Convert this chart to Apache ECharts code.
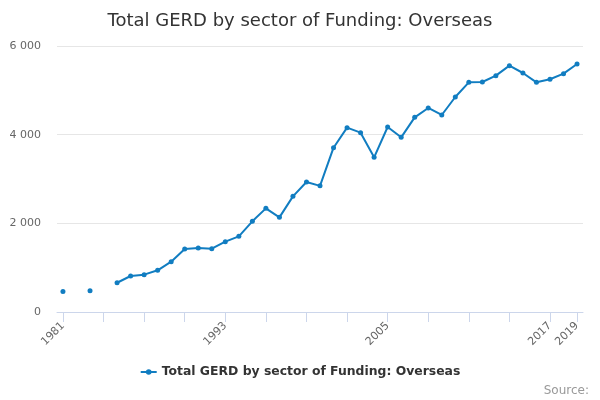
<!DOCTYPE html>
<html>
<head>
<meta charset="utf-8">
<script src="https://cdn.jsdelivr.net/npm/echarts@6/dist/echarts.min.js"></script>
<style>html,body{margin:0;padding:0;background:#fff}#c{width:600px;height:400px}</style>
</head>
<body>
<div id="c"></div>
<script>
var years = [1981,1982,1983,1984,1985,1986,1987,1988,1989,1990,1991,1992,1993,1994,1995,1996,1997,1998,1999,2000,2001,2002,2003,2004,2005,2006,2007,2008,2009,2010,2011,2012,2013,2014,2015,2016,2017,2018,2019];
var values = [460,null,480,null,660,812,842,940,1135,1421,1444,1429,1586,1707,2045,2338,2135,2609,2932,2845,3706,4158,4045,3489,4173,3940,4391,4602,4444,4850,5181,5188,5331,5557,5391,5181,5249,5376,5594];
var tickYears = [1981,1984,1987,1990,1993,1996,1999,2002,2005,2008,2011,2014,2017,2019];
var labelYears = [1981,1993,2005,2017,2019];
var seriesName = 'Total GERD by sector of Funding: Overseas';
var titleText = 'Total GERD by sector of Funding: Overseas';
var sourceText = 'Source:';

var FONT = 'DejaVu Sans';
var chart = echarts.init(document.getElementById('c'), null, {renderer: 'canvas'});
var data = years.map(function (y, i) { return [y, values[i] == null ? '-' : values[i]]; });
function fmt(v) { return String(v).replace(/\B(?=(\d{3})+(?!\d))/g, ' '); }

chart.setOption({
  animation: false,
  title: {
    text: titleText, left: 'center', top: 7,
    textStyle: {fontFamily: FONT, fontSize: 18, fontWeight: 'normal', color: '#333333'}
  },
  grid: {left: 57, right: 17, top: 46, bottom: 88, containLabel: false},
  xAxis: {
    type: 'value', min: 1980.56, max: 2019.44,
    axisLine: {show: true, onZero: false, lineStyle: {color: '#ccd6eb', width: 1}},
    axisTick: {show: true, length: 10, customValues: tickYears, lineStyle: {color: '#ccd6eb'}},
    axisLabel: {
      customValues: labelYears, rotate: 45, margin: 12,
      fontFamily: FONT, fontSize: 11, color: '#666666',
      formatter: function (v) { return String(v); }
    },
    splitLine: {show: false}
  },
  yAxis: {
    type: 'value', min: 0, max: 6000, interval: 2000,
    axisLine: {show: false}, axisTick: {show: false},
    axisLabel: {fontFamily: FONT, fontSize: 11, color: '#666666', margin: 16, formatter: fmt},
    splitLine: {lineStyle: {color: '#e6e6e6', width: 1}}
  },
  legend: {
    bottom: 17, left: 'center', itemWidth: 16, itemHeight: 7, itemGap: 20,
    textStyle: {fontFamily: FONT, fontSize: 12.4, fontWeight: 'bold', color: '#333333'},
    data: [seriesName]
  },
  series: [{
    name: seriesName, type: 'line', data: data,
    connectNulls: false, showSymbol: true, showAllSymbol: true,
    symbol: 'circle', symbolSize: 5,
    itemStyle: {color: '#117dc1'},
    lineStyle: {color: '#117dc1', width: 2}
  }],
  graphic: [{
    type: 'text', right: 11, bottom: 3,
    style: {text: sourceText, fontFamily: FONT, fontSize: 12, fill: '#999999'}
  }]
});
</script>
</body>
</html>
